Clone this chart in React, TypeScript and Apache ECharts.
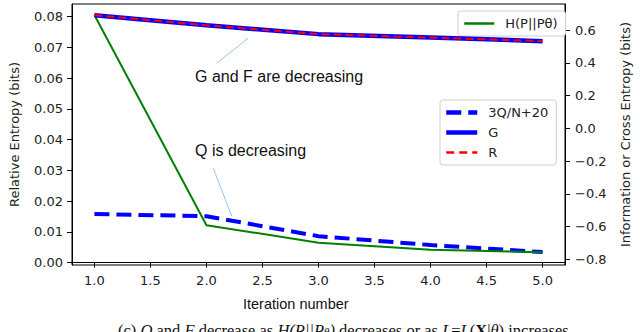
import React, { useEffect, useRef } from "react";
import * as echarts from "echarts";

const iterations = [1, 2, 3, 4, 5];
const relEntropy = [0.0805, 0.0122, 0.0065, 0.0042, 0.0034];
const qCurve = [-0.523, -0.536, -0.658, -0.712, -0.755];
const gCurve = [0.692, 0.63, 0.576, 0.555, 0.533];
const rCurve = [0.692, 0.63, 0.576, 0.555, 0.533];
const xTicks = [1.0, 1.5, 2.0, 2.5, 3.0, 3.5, 4.0, 4.5, 5.0];
const leftTicks = [0, 0.01, 0.02, 0.03, 0.04, 0.05, 0.06, 0.07, 0.08];
const rightTicks = [-0.8, -0.6, -0.4, -0.2, 0.0, 0.2, 0.4, 0.6];

const seriesNames = ["H(P||Pθ)", "3Q/N+20", "G", "R"];

const TICK_FONT = "DejaVu Sans";
const TXT = "#222";

export default function App() {
  const ref = useRef<HTMLDivElement>(null);
  useEffect(() => {
    if (!ref.current) return;
    const chart = echarts.init(ref.current, null, { renderer: "svg" });
    const pts = (ys: number[]) => iterations.map((x, i) => [x, ys[i]]);
    const axisCommon = {
      axisLine: { show: true, lineStyle: { color: "#000", width: 1 } },
      splitLine: { show: false },
    };
    const legendCommon = {
      orient: "vertical",
      itemHeight: 14,
      backgroundColor: "#fff",
      borderColor: "#d0d0d0",
      borderWidth: 1,
      borderRadius: 3,
      itemStyle: { opacity: 0 },
      textStyle: { fontFamily: TICK_FONT, fontSize: 13, color: TXT, padding: [0, 0, 0, 6] },
    };
    chart.setOption({
      animation: false,
      backgroundColor: "#fff",
      grid: {
        left: 66,
        right: 65,
        top: 4,
        bottom: 67,
        show: true,
        borderColor: "#000",
        borderWidth: 1,
        backgroundColor: "transparent",
      },
      xAxis: {
        type: "value",
        min: 0.8,
        max: 5.2,
        ...axisCommon,
        axisTick: { show: true, length: 5, customValues: xTicks, lineStyle: { color: "#000" } },
        axisLabel: {
          customValues: xTicks,
          formatter: (v: number) => v.toFixed(1),
          fontFamily: TICK_FONT,
          fontSize: 13,
          color: TXT,
          margin: 9,
        },
      },
      yAxis: [
        {
          type: "value",
          position: "left",
          min: -0.00075,
          max: 0.0841,
          ...axisCommon,
          axisTick: { show: true, length: 5, customValues: leftTicks, lineStyle: { color: "#000" } },
          axisLabel: {
            customValues: leftTicks,
            formatter: (v: number) => v.toFixed(2),
            fontFamily: TICK_FONT,
            fontSize: 13,
            color: TXT,
            margin: 9,
          },
          name: "Relative Entropy (bits)",
          nameLocation: "middle",
          nameRotate: 90,
          nameGap: 51,
          nameTextStyle: { fontFamily: TICK_FONT, fontSize: 13, color: TXT },
        },
        {
          type: "value",
          position: "right",
          min: -0.834,
          max: 0.76,
          ...axisCommon,
          axisTick: { show: true, length: 5, customValues: rightTicks, lineStyle: { color: "#000" } },
          axisLabel: {
            customValues: rightTicks,
            formatter: (v: number) =>
              v < -1e-9 ? "\u2212" + Math.abs(v).toFixed(1) : Math.abs(v).toFixed(1),
            fontFamily: TICK_FONT,
            fontSize: 13,
            color: TXT,
            margin: 10,
          },
          name: "Information or Cross Entropy (bits)",
          nameLocation: "middle",
          nameRotate: 90,
          nameGap: 54,
          nameTextStyle: { fontFamily: TICK_FONT, fontSize: 13, color: TXT },
        },
      ],
      legend: [
        {
          ...legendCommon,
          data: [{ name: seriesNames[0], lineStyle: { width: 2.5 } }],
          left: 458,
          top: 11,
          itemWidth: 30,
          padding: [6, 8, 6, 5],
        },
        {
          ...legendCommon,
          data: [
            { name: seriesNames[1], lineStyle: { width: 4.5, type: [15, 7] } },
            { name: seriesNames[2], lineStyle: { width: 4.5 } },
            { name: seriesNames[3], lineStyle: { width: 2.5, type: [8, 5] } },
          ],
          left: 440,
          top: 100,
          itemWidth: 31,
          itemGap: 7,
          padding: [6, 8, 6, 4],
        },
      ],
      series: [
        {
          name: seriesNames[1],
          type: "line",
          yAxisIndex: 1,
          data: pts(qCurve),
          symbol: "none",
          lineStyle: { color: "#0000ff", width: 4, type: [15, 7] },
          itemStyle: { color: "#0000ff" },
          z: 2,
        },
        {
          name: seriesNames[0],
          type: "line",
          yAxisIndex: 0,
          data: pts(relEntropy),
          symbol: "none",
          lineStyle: { color: "#008000", width: 2 },
          itemStyle: { color: "#008000" },
          z: 3,
        },
        {
          name: seriesNames[2],
          type: "line",
          yAxisIndex: 1,
          data: pts(gCurve),
          symbol: "none",
          lineStyle: { color: "#0000ff", width: 4.5 },
          itemStyle: { color: "#0000ff" },
          z: 4,
        },
        {
          name: seriesNames[3],
          type: "line",
          yAxisIndex: 1,
          data: pts(rCurve),
          symbol: "none",
          lineStyle: { color: "#ff0000", width: 2, type: [8, 4] },
          itemStyle: { color: "#ff0000" },
          z: 5,
        },
      ],
      graphic: [
        {
          type: "line",
          shape: { x1: 216.7, y1: 63.3, x2: 248, y2: 38.3 },
          style: { stroke: "#7ab8e0", lineWidth: 0.8 },
          z: 10,
        },
        {
          type: "line",
          shape: { x1: 213.3, y1: 168.3, x2: 231.7, y2: 216 },
          style: { stroke: "#7ab8e0", lineWidth: 0.8 },
          z: 10,
        },
        {
          type: "text",
          left: 195,
          top: 68,
          style: {
            text: "G and F are decreasing",
            fontFamily: "Liberation Sans",
            fontSize: 16,
            fill: "#111",
          },
          z: 10,
        },
        {
          type: "text",
          left: 195,
          top: 142,
          style: {
            text: "Q is decreasing",
            fontFamily: "Liberation Sans",
            fontSize: 16,
            fill: "#111",
          },
          z: 10,
        },
        {
          type: "text",
          left: 243,
          top: 296,
          style: {
            text: "Iteration number",
            fontFamily: "Liberation Sans",
            fontSize: 14.5,
            fill: "#111",
          },
        },
        {
          type: "text",
          x: 118,
          y: 322,
          style: {
            text:
              "(c) {i|Q} and {i|F} decrease as {i|H(P||P}{s|θ}{i|)} decreases or as {i|L}={i|L}({b|X}|{i|θ}) increases",
            fontFamily: "Liberation Serif",
            fontSize: 16.5,
            fill: "#111",
            verticalAlign: "top",
            rich: {
              i: { fontFamily: "Liberation Serif", fontSize: 16.5, fontStyle: "italic", fill: "#111" },
              s: { fontFamily: "Liberation Serif", fontSize: 11, fontStyle: "italic", fill: "#111" },
              b: { fontFamily: "Liberation Serif", fontSize: 16.5, fontWeight: "bold", fill: "#111" },
            },
          },
        },
      ],
    });
    return () => chart.dispose();
  }, []);
  return (
    <div
      ref={ref}
      style={{ position: "absolute", left: 0, top: 0, width: 640, height: 332 }}
    />
  );
}
